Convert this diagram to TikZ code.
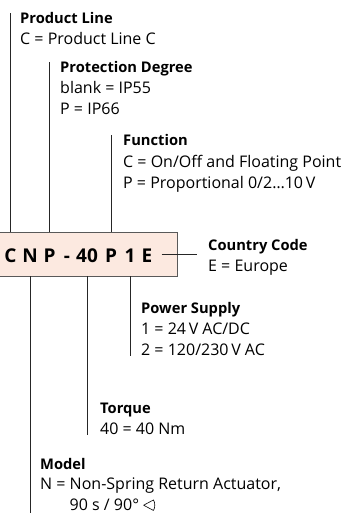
\documentclass[tikz,border=0pt]{standalone}
\usepackage{fontspec}
\setmainfont{Open Sans}
\definecolor{boxfill}{RGB}{252,233,224}
\begin{document}
\begin{tikzpicture}[x=1pt,y=-1pt,line cap=butt,
  lead/.style={draw=black!85,line width=1pt},
  ttl/.style={anchor=base west,inner sep=0pt,font=\fontsize{14.7}{21}\selectfont\bfseries},
  desc/.style={anchor=base west,inner sep=0pt,align=left,font=\fontsize{16}{21}\selectfont},
  code/.style={anchor=base,inner sep=0pt,font=\fontsize{19}{21}\selectfont\bfseries}]
\useasboundingbox (0,0) rectangle (363,513);
% type code
\node[draw=black!65,line width=0.9pt,fill=boxfill,minimum width=179pt,minimum height=44pt,inner sep=0pt] (box) at (87.5,254) {};
\foreach \x/\l/\n in {10.5/C/c,30/N/n,49.5/P/p,67/-/dash,87/40/trq,111/P/f,130/1/one,147/E/e}
  \node[code] (\n) at (\x,262) {\l};

% upper keys (multi-line texts sit on their last baseline)
\node[ttl] (pl) at (20,24) {Product Line};
\node[desc] (pld) at (20,45) {C = Product Line C};
\node[ttl] (pd) at (60,73) {Protection Degree};
\node[desc] (pdd) at (60,115) {blank = IP55\\P = IP66};
\node[ttl] (fn) at (123,146) {Function};
\node[desc] (fnd) at (123,188) {C = On/Off and Floating Point\\P = Proportional 0/2…10\,V};
\node[ttl] (cc) at (208,250) {Country Code};
\node[desc] (ccd) at (208,271) {E = Europe};

% lower keys
\node[ttl] (ps) at (141,313) {Power Supply};
\node[desc] (psd) at (141,355) {1 = 24\,V AC/DC\\2 = 120/230\,V AC};
\node[ttl] (tq) at (100,413) {Torque};
\node[desc] (tqd) at (100,434) {40 = 40 Nm};
\node[ttl] (md) at (40,469) {Model};
\node[desc] (mdd) at (40,510) {N = Non-Spring Return Actuator,\\\phantom{N = }90 s / 90° \tikz[baseline=0pt,line width=0.6pt,line join=round]
  \draw (0,0.3em) -- ++(28:0.7em) arc[start angle=28,end angle=-28,radius=0.7em] -- cycle;};

% leads
\coordinate (ccend) at (197,254);
\coordinate (psend) at (130,356);
\coordinate (tqend) at (87,435);
\coordinate (mdend) at (30,516);
\draw[lead] (c |- box.north) -- (c |- pl.north);
\draw[lead] (p |- box.north) -- (p |- pd.north);
\draw[lead] (f |- box.north) -- (f |- fn.north);
\draw[lead] ([xshift=9pt]e.east |- ccend) -- (ccend);
\draw[lead] (one |- box.south) -- (psend);
\draw[lead] (trq |- box.south) -- (tqend);
\draw[lead] (n |- box.south) -- (mdend);
\end{tikzpicture}
\end{document}
